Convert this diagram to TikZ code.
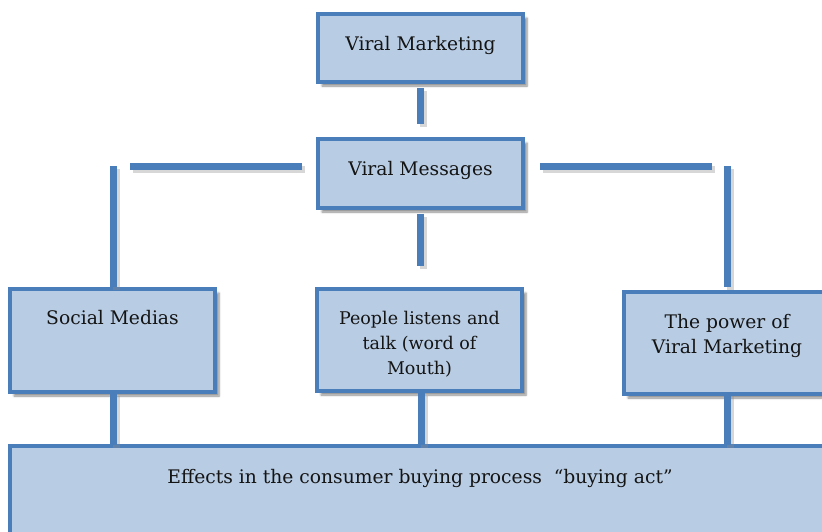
\documentclass[tikz,border=0pt]{standalone}
\usepackage{fontspec}
\setmainfont{DejaVu Serif}
\usetikzlibrary{calc,shadows.blur}
\definecolor{boxfill}{HTML}{B8CCE4}
\definecolor{boxline}{HTML}{4A7EBB}
\definecolor{inktext}{HTML}{141414}
\tikzset{
  box/.style={draw=boxline, line width=4pt, fill=boxfill, minimum width=205pt,
    inner sep=0pt, outer sep=0pt,
    blur shadow={shadow xshift=4pt, shadow yshift=-4pt, shadow blur steps=6, shadow opacity=45}},
  label text/.style={font=\fontsize{18.7}{25}\selectfont, text=inktext, align=center,
    inner sep=0pt, anchor=base},
  small text/.style={font=\fontsize{17.5}{25}\selectfont},
  link/.style={draw=boxline, line width=7pt},
  linkshadow/.style={draw=black!45, line width=7pt, opacity=0.35, transform canvas={xshift=3pt, yshift=-3pt}},
}
\begin{document}
\begin{tikzpicture}[x=1pt, y=-1pt]
\useasboundingbox (0,0) rectangle (822,531);
\clip (0,0) rectangle (822,531);

% boxes
\node[box, minimum height=68pt]  (vm)     at (420.5,48)  {};
\node[box, minimum height=69pt]  (msg)    at (420.5,173.5) {};
\node[box, minimum height=103pt] (social) at (112.5,340.5) {};
\node[box, minimum height=102pt] (people) at (419.5,340) {};
\node[box, minimum height=102pt] (power)  at (726.5,343) {};
\node[box, minimum width=830pt, minimum height=120pt] (effects) at (425,506) {};

% texts (base anchor = baseline of the last line)
\node[label text] (tvm)     at (420.5,50)  {Viral Marketing};
\node[label text] (tmsg)    at (420.5,175) {Viral Messages};
\node[label text] (tsocial) at (112.5,324) {Social Medias};
\node[label text, small text] (tpeople) at (419.5,374) {People listens and\\talk (word of\\Mouth)};
\node[label text] (tpower)  at (727,353) {The power of\\Viral Marketing};
\node[label text] (teffects) at (420,483) {Effects in the consumer buying process\ \ “buying act”};

% connector end points
\coordinate (a1) at ($(vm.south)+(0,6)$);
\coordinate (a2) at ($(msg.north)+(0,-15)$);
\coordinate (l1) at ($(msg.west)+(-16,-7.5)$);
\coordinate (l2) at (130,166);
\coordinate (r1) at ($(msg.east)+(17,-7.5)$);
\coordinate (r2) at (712,166);
\coordinate (lv1) at (113,166);
\coordinate (lv2) at ($(social.north)+(0.5,-2)$);
\coordinate (rv1) at (727,166);
\coordinate (rv2) at ($(power.north)+(0.5,-5)$);
\coordinate (m1) at ($(msg.south)+(0,6)$);
\coordinate (m2) at ($(people.north)+(1,-23)$);
\coordinate (b1) at ($(social.south)+(0.5,1)$);
\coordinate (b2) at ($(people.south)+(1.5,2)$);
\coordinate (b3) at ($(power.south)+(0.5,-1)$);
\coordinate (e1) at (113,445);
\coordinate (e2) at (421,445);
\coordinate (e3) at (727,445);

% connector shadows
\foreach \p/\q in {a1/a2, l1/l2, r1/r2, lv1/lv2, rv1/rv2, m1/m2, b1/e1, b2/e2, b3/e3}
  \path[linkshadow] (\p) -- (\q);
% connectors
\foreach \p/\q in {a1/a2, l1/l2, r1/r2, lv1/lv2, rv1/rv2, m1/m2, b1/e1, b2/e2, b3/e3}
  \path[link] (\p) -- (\q);
\end{tikzpicture}
\end{document}
